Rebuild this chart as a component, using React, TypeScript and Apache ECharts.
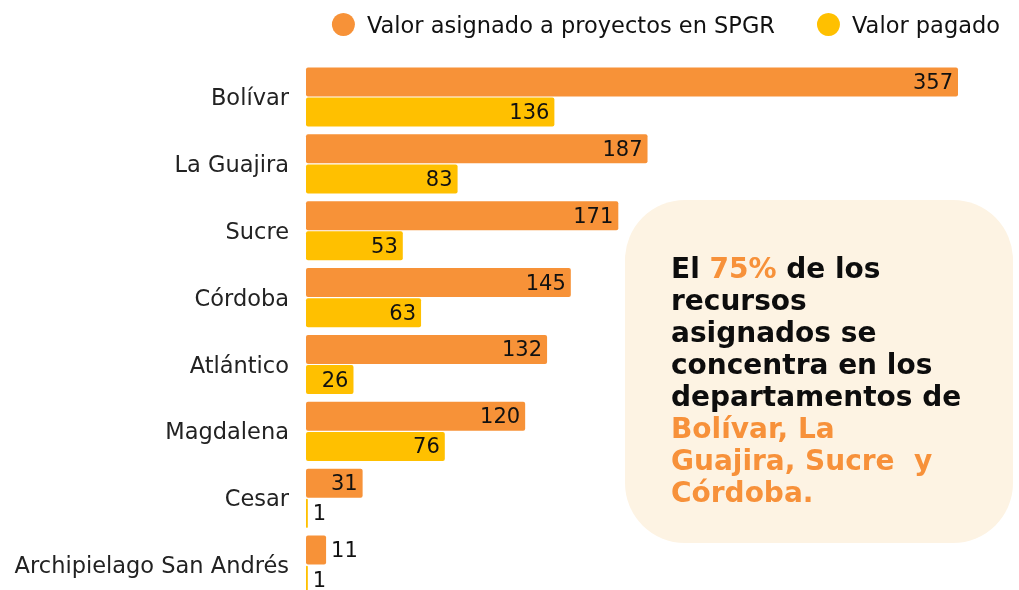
import React, { useEffect, useRef } from "react";
import * as echarts from "echarts";

const categories = [
  "Bolívar",
  "La Guajira",
  "Sucre",
  "Córdoba",
  "Atlántico",
  "Magdalena",
  "Cesar",
  "Archipielago San Andrés",
];
const asignado = [357, 187, 171, 145, 132, 120, 31, 11];
const pagado = [136, 83, 53, 63, 26, 76, 1, 1];
const seriesNames = ["Valor asignado a proyectos en SPGR", "Valor pagado"];

const ORANGE = "#F79238";
const YELLOW = "#FFC000";
const FONT = "'DejaVu Sans', sans-serif";

function toData(values: number[]) {
  return values.map((v) => ({
    value: v,
    label: {
      position: v >= 20 ? "insideRight" : "right",
      distance: 5,
    },
  }));
}

export default function App() {
  const ref = useRef<HTMLDivElement>(null);
  useEffect(() => {
    if (!ref.current) return;
    const chart = echarts.init(ref.current, undefined, { renderer: "svg" });
    const labelStyle = {
      show: true,
      color: "#111",
      fontSize: 21,
      fontFamily: FONT,
    };
    chart.setOption({
      animation: false,
      legend: {
        top: 8,
        right: 14,
        icon: "circle",
        itemWidth: 23,
        itemHeight: 23,
        itemGap: 42,
        textStyle: {
          fontSize: 22.5,
          color: "#111",
          fontFamily: FONT,
          padding: [0, 0, 0, 7],
        },
        data: seriesNames,
      },
      grid: { left: 306, top: 63.6, width: 652, height: 535 },
      xAxis: {
        type: "value",
        min: 0,
        max: 357,
        show: false,
      },
      yAxis: {
        type: "category",
        data: categories,
        inverse: true,
        axisLine: { show: false },
        axisTick: { show: false },
        axisLabel: {
          fontSize: 22.5,
          color: "#222",
          fontFamily: FONT,
          margin: 17,
        },
      },
      series: [
        {
          name: seriesNames[0],
          type: "bar",
          data: toData(asignado),
          barWidth: 29,
          barGap: "4%",
          itemStyle: { color: ORANGE, borderRadius: 2 },
          label: labelStyle,
        },
        {
          name: seriesNames[1],
          type: "bar",
          data: toData(pagado),
          barWidth: 29,
          barGap: "4%",
          itemStyle: { color: YELLOW, borderRadius: 2 },
          label: labelStyle,
        },
      ],
      graphic: [
        {
          type: "rect",
          shape: { x: 625, y: 200, width: 388, height: 343, r: 60 },
          style: { fill: "#FDF3E3" },
          z: 10,
        },
        {
          type: "text",
          x: 671,
          y: 252,
          z: 11,
          style: {
            text:
              "{b|El }{o|75%}{b| de los}\n{b|recursos}\n{b|asignados se}\n{b|concentra en los}\n{b|departamentos de}\n{o|Bolívar, La}\n{o|Guajira, Sucre  y}\n{o|Córdoba.}",
            rich: {
              b: {
                fontSize: 28,
                fontWeight: "bold",
                fontFamily: FONT,
                fill: "#0d0d0d",
                lineHeight: 32,
              },
              o: {
                fontSize: 28,
                fontWeight: "bold",
                fontFamily: FONT,
                fill: "#F7913A",
                lineHeight: 32,
              },
            },
          },
        },
      ],
    });
    return () => chart.dispose();
  }, []);
  return (
    <div
      ref={ref}
      style={{ position: "fixed", left: 0, top: 0, width: 1019, height: 600 }}
    />
  );
}
